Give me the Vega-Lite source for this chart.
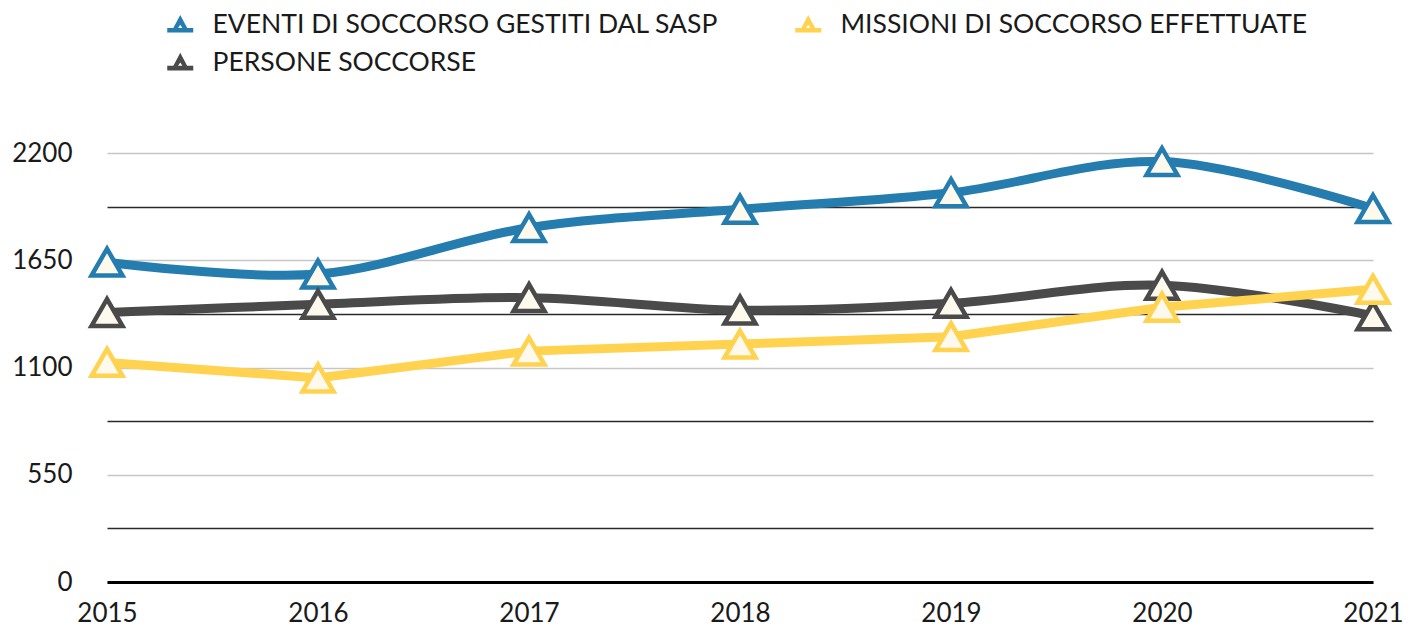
{
  "$schema": "https://vega.github.io/schema/vega-lite/v6.json",
  "width": 1266,
  "height": 429,
  "autosize": "none",
  "padding": {"left": 107, "top": 153, "right": 44, "bottom": 47},
  "background": "white",
  "config": {
    "font": "Lato",
    "view": {"stroke": null},
    "axis": {"labelFont": "Lato", "labelFontSize": 26, "labelColor": "#1a1a1a"}
  },
  "data": {
    "values": [
      {"year": "2015", "series": "EVENTI DI SOCCORSO GESTITI DAL SASP", "value": 1640},
      {"year": "2016", "series": "EVENTI DI SOCCORSO GESTITI DAL SASP", "value": 1579},
      {"year": "2017", "series": "EVENTI DI SOCCORSO GESTITI DAL SASP", "value": 1817},
      {"year": "2018", "series": "EVENTI DI SOCCORSO GESTITI DAL SASP", "value": 1911},
      {"year": "2019", "series": "EVENTI DI SOCCORSO GESTITI DAL SASP", "value": 1996},
      {"year": "2020", "series": "EVENTI DI SOCCORSO GESTITI DAL SASP", "value": 2156},
      {"year": "2021", "series": "EVENTI DI SOCCORSO GESTITI DAL SASP", "value": 1915},
      {"year": "2015", "series": "PERSONE SOCCORSE", "value": 1382},
      {"year": "2016", "series": "PERSONE SOCCORSE", "value": 1424},
      {"year": "2017", "series": "PERSONE SOCCORSE", "value": 1458},
      {"year": "2018", "series": "PERSONE SOCCORSE", "value": 1394},
      {"year": "2019", "series": "PERSONE SOCCORSE", "value": 1429},
      {"year": "2020", "series": "PERSONE SOCCORSE", "value": 1522},
      {"year": "2021", "series": "PERSONE SOCCORSE", "value": 1365},
      {"year": "2015", "series": "MISSIONI DI SOCCORSO EFFETTUATE", "value": 1126},
      {"year": "2016", "series": "MISSIONI DI SOCCORSO EFFETTUATE", "value": 1046},
      {"year": "2017", "series": "MISSIONI DI SOCCORSO EFFETTUATE", "value": 1184},
      {"year": "2018", "series": "MISSIONI DI SOCCORSO EFFETTUATE", "value": 1220},
      {"year": "2019", "series": "MISSIONI DI SOCCORSO EFFETTUATE", "value": 1258},
      {"year": "2020", "series": "MISSIONI DI SOCCORSO EFFETTUATE", "value": 1409},
      {"year": "2021", "series": "MISSIONI DI SOCCORSO EFFETTUATE", "value": 1501}
    ]
  },
  "encoding": {
    "x": {
      "field": "year", "type": "ordinal",
      "scale": {"type": "point", "padding": 0},
      "axis": {
        "title": null, "labelAngle": 0, "ticks": false, "grid": false,
        "domain": true, "domainColor": "#000000", "domainWidth": 3,
        "labelPadding": 18, "labelBaseline": "top"
      }
    },
    "y": {
      "field": "value", "type": "quantitative",
      "scale": {"domain": [0, 2200], "nice": false},
      "axis": {
        "title": null, "domain": false, "ticks": false,
        "values": [0, 275, 550, 825, 1100, 1375, 1650, 1925, 2200],
        "labelExpr": "datum.value % 550 === 0 ? datum.label : ''",
        "format": "d",
        "labelPadding": 35,
        "grid": true,
        "gridColor": {"condition": {"test": "datum.value % 550 === 0", "value": "#c6c6c6"}, "value": "#2a2a2a"},
        "gridWidth": 1.5
      }
    }
  },
  "layer": [
    {
      "transform": [{"filter": "datum.series !== 'MISSIONI DI SOCCORSO EFFETTUATE'"}],
      "mark": {"type": "line", "interpolate": "cardinal", "strokeWidth": 9},
      "encoding": {
        "color": {
          "field": "series", "type": "nominal",
          "scale": {
            "domain": ["EVENTI DI SOCCORSO GESTITI DAL SASP", "MISSIONI DI SOCCORSO EFFETTUATE", "PERSONE SOCCORSE"],
            "range": ["#247caf", "#ffd24f", "#4a4a4a"]
          },
          "legend": {
            "title": null,
            "orient": "none",
            "legendX": 60,
            "legendY": -141,
            "direction": "horizontal",
            "columns": 2,
            "columnPadding": 76,
            "rowPadding": 11,
            "padding": 0,
            "labelFont": "Lato",
            "labelFontSize": 26.5,
            "labelColor": "#1a1a1a",
            "labelOffset": 19,
            "labelLimit": 0,
            "symbolType": "M0,-0.8L0.72,0.55L-0.72,0.55Z M0,-0.05L-0.18,0.22L0.18,0.22Z M-1,0.2H1V0.55H-1Z",
            "symbolSize": 676,
            "symbolStrokeWidth": 0,
            "encode": {
              "symbols": {"update": {"fill": {"scale": "color", "field": "value"}, "strokeWidth": {"value": 0}}}
            }
          }
        }
      }
    },
    {
      "transform": [{"filter": "datum.series !== 'MISSIONI DI SOCCORSO EFFETTUATE'"}],
      "mark": {"type": "point", "shape": "triangle-up", "size": 960, "filled": true, "fill": "#fdf9ec", "strokeWidth": 4.5, "opacity": 1, "strokeJoin": "miter"},
      "encoding": {
        "stroke": {
          "field": "series", "type": "nominal",
          "scale": {
            "domain": ["EVENTI DI SOCCORSO GESTITI DAL SASP", "MISSIONI DI SOCCORSO EFFETTUATE", "PERSONE SOCCORSE"],
            "range": ["#247caf", "#ffd24f", "#4a4a4a"]
          },
          "legend": null
        }
      }
    },
    {
      "transform": [{"filter": "datum.series === 'MISSIONI DI SOCCORSO EFFETTUATE'"}],
      "mark": {"type": "line", "interpolate": "linear", "strokeWidth": 9},
      "encoding": {
        "color": {"field": "series", "type": "nominal"}
      }
    },
    {
      "transform": [{"filter": "datum.series === 'MISSIONI DI SOCCORSO EFFETTUATE'"}],
      "mark": {"type": "point", "shape": "triangle-up", "size": 960, "filled": true, "fill": "#fdf9ec", "strokeWidth": 4.5, "opacity": 1, "strokeJoin": "miter"},
      "encoding": {
        "stroke": {
          "field": "series", "type": "nominal",
          "scale": {
            "domain": ["EVENTI DI SOCCORSO GESTITI DAL SASP", "MISSIONI DI SOCCORSO EFFETTUATE", "PERSONE SOCCORSE"],
            "range": ["#247caf", "#ffd24f", "#4a4a4a"]
          },
          "legend": null
        }
      }
    }
  ]
}
